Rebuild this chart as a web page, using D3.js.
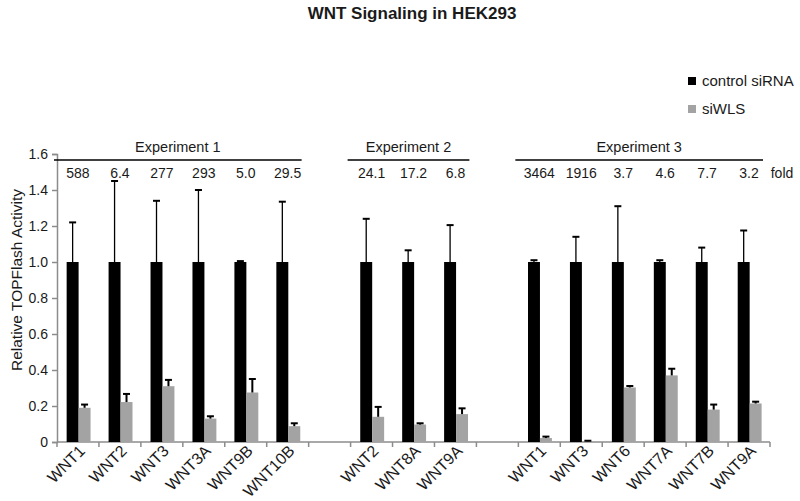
<!DOCTYPE html>
<html>
<head>
<meta charset="utf-8">
<script src="https://cdn.jsdelivr.net/npm/d3@7"></script>
<style>
  body { margin: 0; background: #fff; }
  text { font-family: "Liberation Sans", Arial, sans-serif; fill: #1a1a1a; }
</style>
</head>
<body>
<svg id="chart" width="800" height="501"></svg>
<script>

// data
let expNames = ["Experiment 1", "Experiment 2", "Experiment 3"];
let exp1Genes = ["WNT1", "WNT2", "WNT3", "WNT3A", "WNT9B", "WNT10B"];
let exp2Genes = ["WNT2", "WNT8A", "WNT9A"];
let exp3Genes = ["WNT1", "WNT3", "WNT6", "WNT7A", "WNT7B", "WNT9A"];

let controlMean = [1, 1, 1, 1, 1, 1,  1, 1, 1,  1, 1, 1, 1, 1, 1];
let controlErr  = [0.22, 0.45, 0.34, 0.40, 0.005, 0.335,  0.24, 0.065, 0.205,  0.01, 0.14, 0.31, 0.01, 0.08, 0.175];
let siwlsMean   = [0.19, 0.222, 0.31, 0.13, 0.275, 0.088,  0.14, 0.097, 0.155,  0.022, 0.004, 0.303, 0.37, 0.18, 0.214];
let siwlsErr    = [0.018, 0.045, 0.035, 0.013, 0.075, 0.016,  0.055, 0.007, 0.032,  0.008, 0.003, 0.008, 0.037, 0.028, 0.01];
let foldLabels  = ["588", "6.4", "277", "293", "5.0", "29.5",  "24.1", "17.2", "6.8",  "3464", "1916", "3.7", "4.6", "7.7", "3.2"];
let yTicks = [0, 0.2, 0.4, 0.6, 0.8, 1.0, 1.2, 1.4, 1.6];
let seriesNames = ["control siRNA", "siWLS"];
let seriesColors = ["#000000", "#a3a3a3"];

let svg = d3.select("#chart");
let position = { left: 57, top: 154, right: 770, bottom: 442 };

// build slots: genes of each experiment, with an empty slot between experiments
let slots = [];
let rows = [];
let groupsSlots = [];
[exp1Genes, exp2Genes, exp3Genes].forEach(function(genes, g) {
    if (g > 0) slots.push("gap" + g);
    let keys = [];
    genes.forEach(function(gene) {
        let key = "e" + (g + 1) + "-" + gene;
        slots.push(key);
        keys.push(key);
        let i = rows.length;
        rows.push({ key: key, gene: gene, ctrl: controlMean[i], ctrlErr: controlErr[i],
                    wls: siwlsMean[i], wlsErr: siwlsErr[i], fold: foldLabels[i] });
    });
    groupsSlots.push({ name: expNames[g], keys: keys });
});

let x = d3.scaleBand()
            .domain(slots)
            .range([position.left, position.right])
            .padding(0);

let y = d3.scaleLinear()
            .domain([0, 1.6])
            .range([position.bottom, position.top]);

let bw = x.bandwidth();
let barW = bw * 0.285;
let barOff = bw * 0.23;

// title
svg.append("text")
    .attr("x", 412).attr("y", 19)
    .attr("text-anchor", "middle")
    .style("font-size", "17px").style("font-weight", "bold")
    .text("WNT Signaling in HEK293");

// y axis
let yAxis = svg.append("g")
    .attr("transform", "translate(" + position.left + ",0)")
    .call(d3.axisLeft(y).tickValues(yTicks).tickSize(5).tickPadding(4)
            .tickFormat(d => d === 0 ? "0" : d3.format(".1f")(d)));
yAxis.select(".domain").attr("stroke", "#8c8c8c").attr("stroke-width", 1.5);
yAxis.selectAll(".tick line").attr("stroke", "#8c8c8c").attr("stroke-width", 1.5);
yAxis.selectAll(".tick text").style("font-size", "14px").attr("fill", "#2a2a2a")
    .style("font-family", "'Liberation Sans', Arial, sans-serif");

svg.append("text")
    .attr("transform", "translate(22,280) rotate(-90)")
    .attr("text-anchor", "middle")
    .style("font-size", "15.5px")
    .text("Relative TOPFlash Activity");

// x axis line and slot boundary ticks
let xg = svg.append("g");
xg.append("line")
    .attr("x1", position.left).attr("x2", position.right)
    .attr("y1", y(0)).attr("y2", y(0))
    .attr("stroke", "#8c8c8c").attr("stroke-width", 1.5);
xg.selectAll(".btick")
    .data(slots.map(s => x(s) + bw).concat([position.left]))
    .enter().append("line")
    .attr("x1", d => d).attr("x2", d => d)
    .attr("y1", y(0)).attr("y2", y(0) + 5)
    .attr("stroke", "#8c8c8c").attr("stroke-width", 1.5);

xg.selectAll(".xlab")
    .data(rows)
    .enter().append("text")
    .attr("transform", d => "translate(" + (x(d.key) + bw / 2 + 8) + "," + (y(0) + 10) + ") rotate(-45)")
    .attr("text-anchor", "end")
    .style("font-size", "16px")
    .text(d => d.gene);

// bars
let bars = svg.append("g");
bars.selectAll(".ctrl")
    .data(rows).enter().append("rect")
    .attr("x", d => x(d.key) + barOff)
    .attr("y", d => y(d.ctrl))
    .attr("width", barW)
    .attr("height", d => y(0) - y(d.ctrl))
    .attr("fill", seriesColors[0]);
bars.selectAll(".wls")
    .data(rows).enter().append("rect")
    .attr("x", d => x(d.key) + barOff + barW)
    .attr("y", d => y(d.wls))
    .attr("width", barW)
    .attr("height", d => y(0) - y(d.wls))
    .attr("fill", seriesColors[1]);

// error bars (upper only)
function errorBars(cls, cx, val, err, sw) {
    let g = svg.append("g");
    g.selectAll("." + cls + "v")
        .data(rows).enter().append("line")
        .attr("x1", cx).attr("x2", cx)
        .attr("y1", d => y(val(d))).attr("y2", d => y(val(d) + err(d)))
        .attr("stroke", "#000").attr("stroke-width", sw);
    g.selectAll("." + cls + "c")
        .data(rows).enter().append("line")
        .attr("x1", d => cx(d) - 3.5).attr("x2", d => cx(d) + 3.5)
        .attr("y1", d => y(val(d) + err(d))).attr("y2", d => y(val(d) + err(d)))
        .attr("stroke", "#000").attr("stroke-width", 2);
}
errorBars("ce", d => x(d.key) + barOff + barW / 2, d => d.ctrl, d => d.ctrlErr, 1.3);
errorBars("we", d => x(d.key) + barOff + barW * 1.5, d => d.wls, d => d.wlsErr, 2);

// experiment headers and fold labels
let head = svg.append("g");
groupsSlots.forEach(function(gr) {
    let x1 = x(gr.keys[0]) - 3;
    let x2 = x(gr.keys[gr.keys.length - 1]) + bw - 7;
    head.append("line")
        .attr("x1", x1).attr("x2", x2)
        .attr("y1", 160).attr("y2", 160)
        .attr("stroke", "#000").attr("stroke-width", 1.3);
    head.append("text")
        .attr("x", (x1 + x2) / 2).attr("y", 152)
        .attr("text-anchor", "middle")
        .style("font-size", "14.5px")
        .text(gr.name);
});
head.selectAll(".fold")
    .data(rows).enter().append("text")
    .attr("x", d => x(d.key) + bw / 2)
    .attr("y", 178)
    .attr("text-anchor", "middle")
    .style("font-size", "14px")
    .text(d => d.fold);
head.append("text")
    .attr("x", position.right + 12).attr("y", 178)
    .attr("text-anchor", "middle")
    .style("font-size", "14px")
    .text("fold");

// legend
let legend = svg.append("g");
seriesNames.forEach(function(name, i) {
    legend.append("rect")
        .attr("x", 688).attr("y", 77 + i * 28)
        .attr("width", 8).attr("height", 8)
        .attr("fill", seriesColors[i]);
    legend.append("text")
        .attr("x", 702).attr("y", 86 + i * 28)
        .style("font-size", "15px")
        .text(name);
});

</script>
</body>
</html>
